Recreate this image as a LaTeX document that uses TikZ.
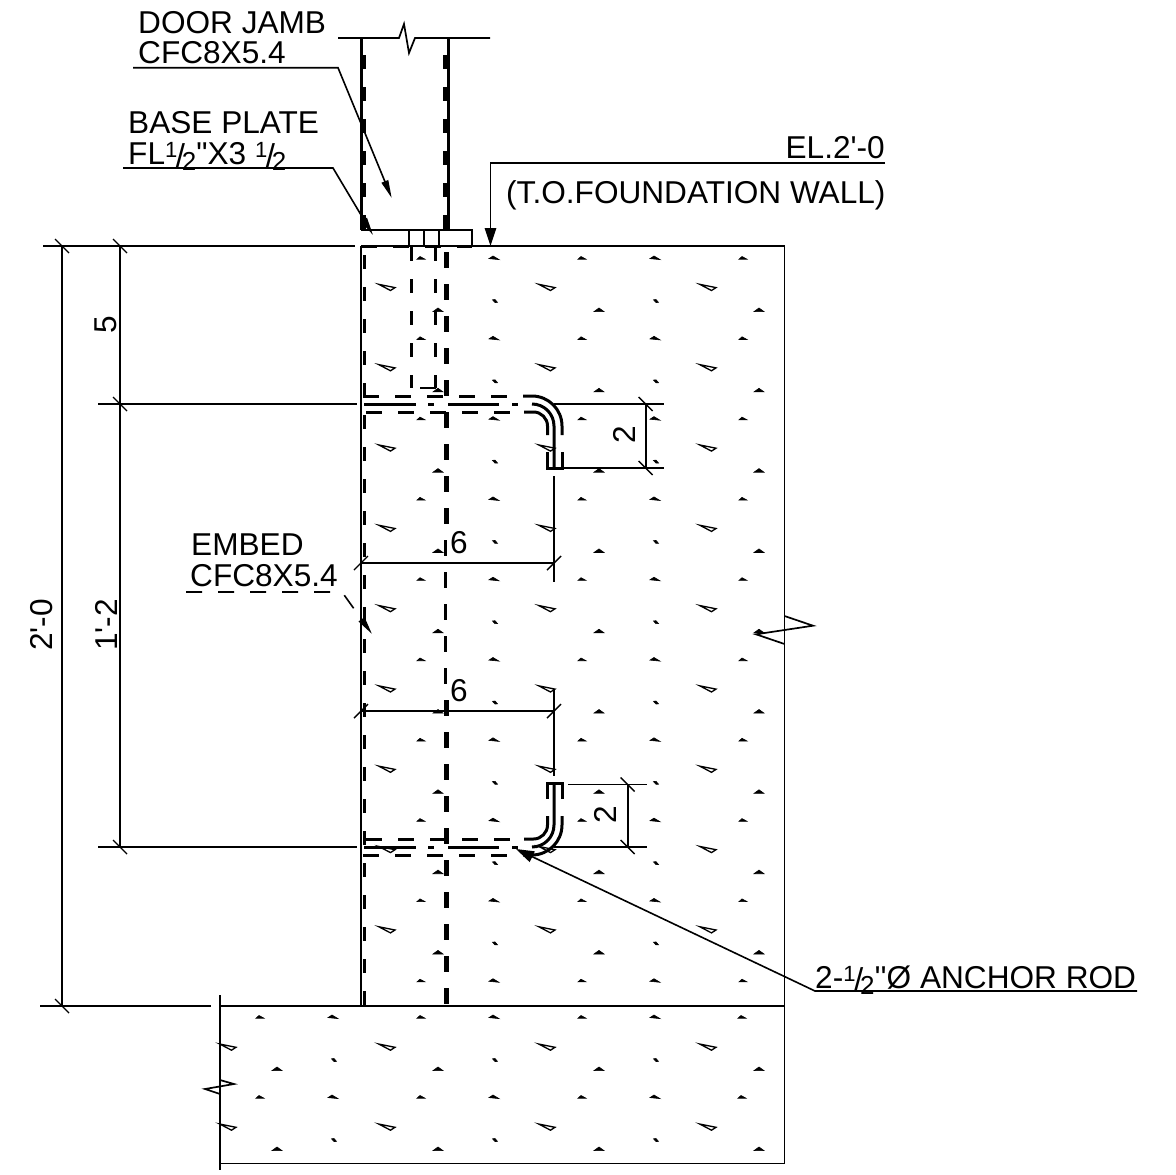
\documentclass[tikz,border=0pt]{standalone}
\usepackage{fontspec}
\usepackage{tikz}
\newfontfamily\notefont{Liberation Sans}
\usetikzlibrary{arrows.meta}
\newcommand{\halffrac}{\raisebox{7pt}{\fontsize{22}{22}\selectfont 1}\kern-1.5pt\raisebox{-3pt}{\fontsize{33}{33}\selectfont /}\kern-3pt\raisebox{-6pt}{\fontsize{26}{26}\selectfont 2}}
\tikzset{
    note-text/.style = {inner sep=0pt, anchor=base west, font=\notefont\fontsize{31.6}{32}\selectfont},
    dim-text/.style = {inner sep=0pt, anchor=center, font=\notefont\fontsize{31.6}{32}\selectfont},
    thin-line/.style = {line width=1.7pt},
    leader-line/.style = {line width=1.6pt},
    tick-line/.style = {line width=1.4pt},
    steel-line/.style = {line width=3pt},
    steel-dash/.style = {line width=3.5pt, dash pattern=on 13.5pt off 18.5pt},
    wall-dash/.style = {line width=5pt, dash pattern=on 16pt off 16pt},
    wall-dash-thin/.style = {line width=3pt, dash pattern=on 16pt off 16pt},
    rod-dash/.style = {line width=3pt, dash pattern=on 16pt off 16pt},
    rod-line/.style = {line width=3pt},
    note-arrow/.style = {-{Triangle[length=18pt,width=7pt]}},
    wide-arrow/.style = {-{Triangle[length=18pt,width=11.5pt]}},
    chip-t/.pic = {\draw[line width=1.3pt, fill=white] (-8.3,-3) -- (8,0.3) -- (3.5,3.2) -- cycle;},
    chip-a/.pic = {\draw[line width=.6pt, fill=black] (-5,0.6) -- (-1,-2) -- (5,1.6) -- (1,1.2) -- cycle;},
    chip-b/.pic = {\draw[line width=.6pt, fill=black] (-4,1.2) -- (-1,-1.5) -- (4,1.2) -- cycle;},
    chip-e/.pic = {\draw[line width=.6pt, fill=black] (-5,1.6) -- (0,-2) -- (5,1.6) -- cycle;},
    chip-d/.pic = {\draw[line width=.6pt, fill=black] (-2.5,-1.2) -- (0,-1.5) -- (2.5,1.4) -- (0,1.5) -- cycle;},
    anchor-rod/.pic = {
        \draw[rod-dash] (363,-8) -- (520,-8);
        \draw[rod-dash] (366,8) -- (521,8);
        \foreach \xa/\xb in {364/416,428/434,448/499,512/518}
            \draw[rod-line] (\xa,0) -- (\xb,0);
        \draw[rod-line, rounded corners=30pt] (523,-8) -- (562,-8) -- (562,31);
        \draw[rod-line, rounded corners=22pt] (532,0) -- (554,0) -- (554,64);
        \draw[rod-line, rounded corners=14pt] (524,8) -- (547.5,8) -- (547.5,31);
        \draw[rod-line] (562,48) -- (562,64) -- (547.5,64) -- (547.5,48);
    },
}

\begin{document}
\begin{tikzpicture}[x=1pt,y=-1pt]
\useasboundingbox (0,0) rectangle (1176,1175);
% aggregate in the wall
\foreach \row in {0,...,9} {
    \foreach \col in {494,655} \pic at (\col,{258+80.3*\row}) {chip-a};
    \foreach \col in {421,582,743} \pic at (\col,{258+80.3*\row}) {chip-b};
}
\foreach \row in {0,...,8} {
    \foreach \col in {387,547,708} \pic at (\col,{287.3+80.3*\row}) {chip-t};
    \foreach \col in {495,656} \pic at (\col,{301+80.3*\row}) {chip-d};
    \foreach \col in {438,599,759} \pic at (\col,{310+80.3*\row}) {chip-e};
}
% aggregate in the footing
\foreach \row in {0,1} {
    \foreach \col in {333,494,655} \pic at (\col,{1017+80*\row}) {chip-a};
    \foreach \col in {260,421,582,742} \pic at (\col,{1017+80*\row}) {chip-b};
    \foreach \col in {228,387,547,708} \pic at (\col,{1047+80*\row}) {chip-t};
    \foreach \col in {334,495,656} \pic at (\col,{1060+80*\row}) {chip-d};
    \foreach \col in {277,438,599,759} \pic at (\col,{1069+80*\row}) {chip-e};
}
% concrete outline
\draw[thin-line] (43,246) -- (355,246);
\draw[thin-line] (361,246) -- (784.5,246) -- (784.5,1163.5) -- (220,1163.5);
\draw[thin-line] (784.5,616) -- (813,625.7) -- (756,634.3) -- (784.5,644);
\draw[thin-line] (220,995) -- (220,1170);
\draw[thin-line] (220,1080) -- (234,1084) -- (205,1089) -- (220,1094);
\draw[thin-line] (40,1006) -- (211,1006);
\draw[thin-line] (220,1006) -- (784.5,1006);
\draw[thin-line] (361,246) -- (361,1006);
% door jamb
\draw[thin-line] (338,38) -- (399,38) -- (404,24) -- (409,53) -- (415,38) -- (490,38);
\draw[steel-line] (361,38) -- (361,230);
\draw[steel-line] (448,38) -- (448,230);
\draw[steel-dash] (364.5,55) -- (364.5,230);
\draw[steel-dash] (445,55) -- (445,230);
% base plate
\draw[line width=2.5pt] (361,230) -- (472,230) -- (472,247);
\foreach \xa in {409,424,439} \draw[thin-line] (\xa,230) -- (\xa,246);
\draw[line width=2.5pt, dash pattern=on 16pt off 16pt] (361,246.7) -- (472,246.7);
% embed
\draw[steel-dash] (364.5,255) -- (364.5,1006);
\draw[wall-dash] (446.7,252) -- (446.7,540);
\draw[wall-dash-thin] (445,540) -- (445,700);
\draw[wall-dash] (446.7,700) -- (446.7,1006);
\draw[line width=2.5pt, dash pattern=on 15pt off 17pt] (362,1006) -- (448,1006);
% rod sleeve
\draw[steel-dash] (411.7,247) -- (411.7,388);
\draw[steel-dash] (435.7,247) -- (435.7,388);
\draw[line width=2.5pt] (420,388) -- (436,388);
% anchor rods
\pic at (0,404) {anchor-rod};
\pic[yscale=-1] at (0,847) {anchor-rod};
% dimensions
\draw[thin-line] (98,404) -- (357,404);
\draw[thin-line] (98,847) -- (357,847);
\draw[thin-line] (554,404) -- (664,404);
\draw[thin-line] (562,468) -- (664,468);
\draw[thin-line] (554,847) -- (647,847);
\draw[thin-line] (568,784.5) -- (647,784.5);
\draw[thin-line] (62,246) -- (62,1006);
\draw[thin-line] (120,246) -- (120,847);
\draw[thin-line] (645.7,404) -- (645.7,468);
\draw[thin-line] (627.7,784.5) -- (627.7,847);
\draw[thin-line] (361,563) -- (554,563);
\draw[thin-line] (361,711) -- (554,711);
\draw[thin-line] (554,476) -- (554,582);
\draw[thin-line] (554,690) -- (554,776);
\foreach \xa/\ya in {62/246,62/1006,120/246,120/404,120/847,645.7/404,645.7/468,627.7/784.5,627.7/847}
    \draw[tick-line] (\xa-7,\ya-7) -- (\xa+7,\ya+7);
\foreach \xa/\ya in {361/563,554/563,361/711,554/711}
    \draw[tick-line] (\xa-7,\ya+7) -- (\xa+7,\ya-7);
\node[dim-text, rotate=90] (dim-five) at (106,325) {5};
\node[dim-text, rotate=90] (dim-height) at (42,625) {2'-0};
\node[dim-text, rotate=90] (dim-rods) at (106,625) {1'-2};
\node[dim-text, rotate=90] (dim-hook-top) at (624,435) {2};
\node[dim-text, rotate=90] (dim-hook-bottom) at (605,815) {2};
\node[dim-text] (dim-reach-top) at (459,543) {6};
\node[dim-text] (dim-reach-bottom) at (459,691) {6};
% notes
\node[note-text] (door-jamb) at (138,33) {DOOR JAMB};
\node[note-text] (door-jamb-size) at (138,63.5) {CFC8X5.4};
\node[note-text] (base-plate) at (128,133) {BASE PLATE};
\node[note-text] (base-plate-size) at (128,164) {FL\halffrac"X3 \halffrac};
\node[note-text, anchor=base east] (elevation) at (885,158) {EL.2'-0};
\node[note-text] (wall-top) at (506,203) {(T.O.FOUNDATION WALL)};
\node[note-text] (embed) at (191,555) {EMBED};
\node[note-text] (embed-size) at (190,586) {CFC8X5.4};
\node[note-text] (anchor-rods) at (815,988) {2-\halffrac''Ø ANCHOR ROD};
% leaders
\coordinate (jamb-start) at (133,67.7);
\coordinate (jamb-bend) at (338,67.7);
\coordinate (jamb-tip) at (391.7,198);
\coordinate (plate-start) at (123,168);
\coordinate (plate-bend) at (333,168);
\coordinate (plate-tip) at (373,235);
\coordinate (wall-start) at (885,163);
\coordinate (wall-bend) at (490.5,163);
\coordinate (wall-tip) at (490.5,246);
\coordinate (embed-start) at (186,592);
\coordinate (embed-bend) at (342,592);
\coordinate (embed-tip) at (372,634);
\coordinate (rod-start) at (1137,991);
\coordinate (rod-bend) at (815,991);
\coordinate (rod-tip) at (516,849);
\draw[leader-line, note-arrow] (jamb-start) -- (jamb-bend) -- (jamb-tip);
\draw[leader-line, note-arrow] (plate-start) -- (plate-bend) -- (plate-tip);
\draw[leader-line, wide-arrow] (wall-start) -- (wall-bend) -- (wall-tip);
\draw[leader-line, note-arrow, dash pattern=on 16pt off 16pt] (embed-start) -- (embed-bend) -- (embed-tip);
\draw[leader-line, wide-arrow] (rod-start) -- (rod-bend) -- (rod-tip);
\end{tikzpicture}
\end{document}
